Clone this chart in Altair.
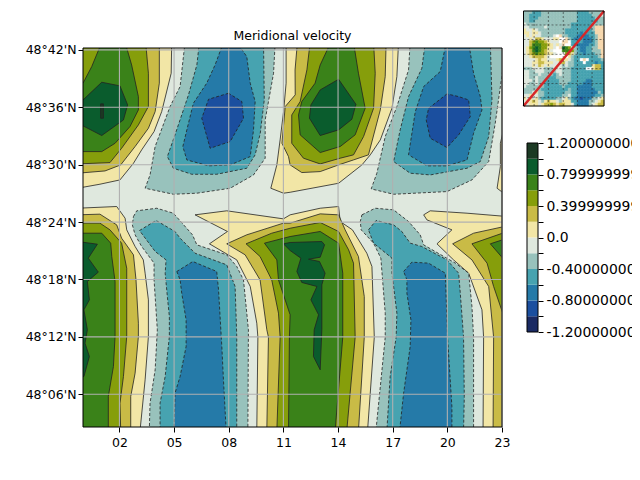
import altair as alt
import pandas as pd

# hours, latitude minutes above 48 degrees
T = 42.8
B = 2.2
L = -0.3
R = 23.3

TITLE = "Meridional velocity"

LEVELS = {
 "p00": ("#f2e6a6", [
  [(L,T),(4.87,T),(4.84,39.56),(4.32,35.55),(3.90,33.46),(3.22,31.55),(2.77,30.15),(2.03,28.41),(0.93,27.96),(L,27.54)],
  [(11.15,T),(11.15,38.52),(11.01,35.55),(10.82,32.59),(10.64,29.98),(10.31,27.54),(11.01,27.02),(11.37,27.12),(14.03,28.06),(15.31,29.98),(15.77,31.03),(16.32,32.59),(16.96,35.9),(17.23,39.21),(17.32,T)],
  [(R,33.29),(23.04,33.29),(22.91,32.24),(22.91,29.81),(22.73,27.54),(23.04,27.09),(R,27.09)],
  [(L,25.45),(1.85,25.63),(2.31,24.41),(2.40,23.19),(2.86,21.45),(3.31,20.05),(3.41,18.66),(3.59,15.87),(3.59,12.04),(3.41,7.51),(3.13,B),(L,B)],
  [(6.15,24.76),(7.89,25.18),(11.0,24.34),(11.37,24.76),(13.02,25.45),(14.03,25.63),(14.12,24.06),(14.79,23.19),(15.58,20.75),(15.86,19.36),(15.99,11.97),(15.62,B),(9.54,B),(9.6,11.97),(9.54,13.43),(9.18,17.27),(8.44,20.05),(6.94,21.73),(7.93,23.02)],
  [(18.7,24.76),(19.06,25.18),(21.08,24.93),(R,24.58),(R,B),(21.96,B),(21.99,11.97),(21.9,14.83),(21.17,18.66),(20.34,20.05),(19.43,21.73),(20.25,23.19),(18.88,24.23)],
 ]),
 "p02": ("#c9bb46", [
  [(L,T),(4.19,T),(4.19,38.52),(3.96,35.55),(3.59,33.81),(2.86,31.9),(2.07,29.98),(1.21,29.35),(L,29.11)],
  [(11.77,T),(11.64,39.91),(11.65,37.3),(11.10,36.08),(10.92,32.24),(11.28,30.85),(11.37,29.98),(12.01,29.18),(13.02,29.28),(14.03,29.98),(14.85,30.5),(15.67,31.03),(16.32,35.73),(16.59,39.21),(16.64,T)],
  [(L,24.76),(0.93,24.83),(1.85,23.71),(2.12,22.32),(2.77,20.58),(2.91,17.96),(3.04,13.43),(3.04,12.04),(2.86,8.21),(2.62,5.77),(2.62,B),(L,B)],
  [(7.89,21.73),(8.99,22.67),(11.0,23.89),(11.37,23.89),(13.02,24.86),(14.03,24.76),(14.39,23.19),(15.12,20.4),(15.44,16.22),(15.44,11.97),(15.12,B),(10.09,B),(10.18,11.97),(10.09,12.74),(9.72,17.96),(8.9,20.58)],
  [(20.29,21.73),(21.44,22.84),(R,23.61),(R,B),(22.51,B),(22.54,11.97),(22.27,17.27),(21.35,20.05)],
 ]),
 "p04": ("#869e0b", [
  [(L,T),(3.44,T),(3.59,39.56),(3.59,36.08),(3.04,34.16),(2.12,31.72),(1.48,30.22),(L,30.08)],
  [(12.47,T),(12.29,39.91),(11.92,36.6),(11.46,35.2),(11.46,32.24),(12.10,30.68),(13.02,30.08),(14.12,30.68),(14.85,31.03),(15.40,32.94),(15.95,35.9),(16.04,39.56),(15.95,T)],
  [(L,23.89),(0.93,23.89),(1.48,23.19),(2.12,21.8),(2.40,19.18),(2.40,12.04),(2.22,7.86),(2.03,5.07),(2.07,B),(L,B)],
  [(8.95,21.73),(10.36,22.84),(11.37,23.36),(13.02,23.96),(14.03,23.02),(14.58,21.1),(14.85,19.71),(14.94,11.97),(14.48,B),(10.64,B),(10.82,11.97),(10.73,14.48),(10.36,17.96),(9.72,20.4)],
  [(21.35,21.73),(R,23.02),(R,14.13),(23.04,14.48),(22.54,17.27),(22.18,19.71)],
 ]),
 "p06": ("#3a8219", [
  [(1.03,T),(2.31,T),(2.67,40.43),(3.04,37.12),(3.04,35.73),(2.58,33.99),(1.76,32.24),(1.03,31.37),(L,31.37),(L,38.52),(0,38.52),(0.48,40.26)],
  [(13.60,T),(13.02,40.43),(12.74,38.52),(12.01,36.6),(11.83,35.2),(11.92,33.12),(13.02,31.27),(14.12,31.9),(14.94,33.12),(15.49,35.9),(15.12,39.56),(14.85,T)],
  [(L,22.84),(1.03,22.84),(1.52,21.8),(1.58,20.4),(1.76,17.79),(1.76,12.04),(1.67,8.91),(1.39,5.77),(1.39,B),(L,B)],
  [(9.96,21.8),(11.37,22.49),(13.02,23.02),(14.03,21.8),(14.26,18.66),(14.26,11.97),(13.84,B),(11.28,B),(11.33,11.97),(11.37,14.31),(10.73,17.96),(10.64,20.05)],
  [(22.36,21.73),(R,22.32),(R,20.23),(23.04,20.23)],
 ]),
 "p08": ("#0a5c2d", [
  [(L,36.77),(0,36.77),(1.03,38.62),(2.03,38.24),(2.45,36.25),(2.22,34.68),(1.03,33.05),(0,34.06),(L,34.06)],
  [(14.03,38.93),(13.02,37.82),(12.51,36.25),(12.43,34.86),(13.02,33.05),(14.03,33.64),(14.76,34.75),(14.98,36.32)],
  [(L,21.97),(0.79,21.69),(0.29,20.23),(0.84,18.77),(0.24,17.79),(0.35,15.87),(0.05,14.83),(0.24,12.74),(0.11,11.34),(0.35,9.95),(0.05,7.86),(L,7.69)],
  [(11.0,21.73),(11.37,21.87),(13.11,21.97),(13.26,21.62),(13.02,20.33),(12.38,20.12),(12.98,19.88),(13.29,18.66),(13.11,17.44),(13.11,12.74),(13.02,8.56),(12.65,9.95),(12.69,12.74),(12.93,14.31),(12.51,15.87),(12.84,17.27),(12.01,17.69),(11.74,18.84),(11.96,20.23),(11.37,21.03)],
 ]),
 "p10": ("#1c3a24", [
  [(0.97,36.36),(1.12,36.36),(1.12,34.86),(0.97,34.86)],
 ]),
 "n02": ("#98c2bc", [
  [(5.60,T),(5.33,38.17),(4.78,36.08),(3.96,31.9),(3.68,28.93),(3.41,27.54),(4.96,26.91),(6.25,27.02),(8.08,27.54),(9.36,28.93),(10.0,30.68),(10.0,34.68),(10.46,39.56),(10.55,T)],
  [(17.96,T),(17.87,39.91),(17.23,36.08),(16.59,32.94),(16.13,29.11),(15.82,27.47),(17.05,26.91),(19.98,27.19),(21.35,28.41),(22.27,30.33),(22.63,34.34),(23.04,39.91),(R,39.91),(R,T)],
  [(2.77,24.58),(2.95,25.18),(4.05,25.45),(4.96,24.93),(6.01,22.67),(6.25,21.62),(7.89,20.58),(8.44,19.36),(8.81,17.96),(9.08,12.74),(9.05,B),(3.64,B),(3.68,5.07),(3.96,8.56),(4.08,12.74),(3.90,17.96),(3.90,19.71),(3.22,21.45),(2.86,22.67),(2.71,23.71)],
  [(15.31,24.76),(16.04,25.45),(17.05,25.28),(17.87,24.06),(18.51,22.67),(18.70,21.62),(20.44,19.71),(21.17,18.66),(21.35,15.18),(21.44,11.97),(21.44,B),(16.08,B),(16.59,11.97),(16.59,14.48),(16.35,20.23),(15.95,21.8),(15.27,23.19),(15.22,24.06)],
 ]),
 "n04": ("#47a3b0", [
  [(6.39,T),(6.25,40.43),(5.79,37.3),(5.05,33.12),(4.63,30.85),(4.96,29.63),(5.97,29.0),(7.34,29.0),(8.99,29.63),(9.45,31.03),(9.73,33.29),(9.95,36.77),(9.91,T)],
  [(18.79,T),(18.60,40.08),(17.87,37.12),(17.41,33.64),(17.05,30.33),(17.96,29.11),(19.06,28.93),(21.08,29.63),(21.81,30.33),(22.27,32.94),(22.45,36.77),(22.36,T)],
  [(3.10,23.12),(4.01,24.17),(5.05,23.02),(5.33,22.32),(6.15,20.75),(7.89,19.53),(8.35,17.27),(8.44,12.04),(8.44,B),(4.23,B),(4.23,5.07),(4.51,7.86),(4.74,12.04),(4.74,14.13),(4.63,16.22),(4.51,18.66),(4.56,20.05),(3.96,20.93)],
  [(15.67,23.19),(16.09,24.17),(17.05,23.71),(17.5,23.02),(17.96,21.8),(18.6,21.45),(19.98,20.05),(20.62,18.66),(20.71,16.57),(20.89,11.97),(20.93,5.77),(20.89,B),(16.68,B),(16.86,7.86),(17.19,11.97),(17.23,14.48),(16.96,18.66),(16.96,20.23),(15.95,21.8)],
 ]),
 "n06": ("#257aa8", [
  [(7.71,T),(7.25,40.43),(6.79,38.52),(6.06,36.43),(5.70,33.64),(5.48,31.9),(5.70,30.5),(6.89,29.88),(8.08,29.98),(9.18,30.85),(9.36,33.64),(9.45,36.6),(9.18,38.52),(8.99,41.3),(8.44,T)],
  [(19.94,T),(19.61,39.74),(18.70,38.17),(18.24,35.55),(17.87,31.03),(18.88,29.88),(19.98,29.88),(21.08,30.5),(21.44,33.29),(21.90,35.73),(21.81,37.12),(21.44,39.56),(21.17,T)],
  [(5.15,18.84),(6.03,19.88),(7.34,18.84),(7.44,16.92),(7.62,11.0),(7.71,7.51),(7.86,B),(5.0,B),(5.05,6.12),(5.33,7.86),(5.66,11.0),(5.66,13.78),(5.42,16.57),(5.33,17.96)],
  [(17.6,18.84),(18.05,19.81),(18.97,19.71),(19.89,18.66),(20.01,11.97),(20.25,4.72),(20.25,B),(17.38,B),(17.6,6.12),(17.96,11.0),(18.0,13.78),(17.78,16.57),(17.78,17.96)],
 ]),
 "n08": ("#1b4f9f", [
  [(7.99,37.47),(6.89,36.84),(6.52,34.86),(6.98,31.72),(8.08,32.42),(8.81,34.86),(8.72,36.6)],
  [(19.98,37.4),(18.97,35.9),(18.84,34.68),(19.06,32.77),(19.98,31.79),(20.62,33.12),(21.26,35.03),(21.17,36.77),(20.62,37.12)],
 ]),
}

X_TICKS = [2, 5, 8, 11, 14, 17, 20, 23]
Y_TICKS = [6, 12, 18, 24, 30, 36, 42]

CBAR_EDGES = [-1.2, -1.0, -0.8, -0.6, -0.4, -0.2, 0.0, 0.2, 0.4, 0.6, 0.8, 1.0, 1.2]
CBAR_COLORS = ["#1a2a63", "#1b4f9f", "#257aa8", "#47a3b0", "#98c2bc", "#dfe8de",
               "#f2e6a6", "#c9bb46", "#869e0b", "#3a8219", "#0a5c2d", "#1c3a24"]
CBAR_LABELS = {1.2: "1.2000000000000002", 0.8: "0.7999999999999998", 0.4: "0.3999999999999999",
               0.0: "0.0", -0.4: "-0.4000000000000001", -0.8: "-0.8000000000000002", -1.2: "-1.2000000000000002"}

INSET_ROWS = [
 "tttTTTttttttttttttTTTTtttt.",
 "ttTTTTttttttttttttTTTTTttt.",
 "ttTTTtttttttttttttTTTTTTttt",
 "ttTTttttttttttttttTTTTTTTtt",
 ".tttttttttttttttTTTTTTTtttt",
 "..ttttt.ttttttttTTTTTTTtLLL",
 "c..c.tttttttttTTTTTTTTTtLLL",
 "cc.cc.ttttttttTTTTTBTTTTLLL",
 ".c.c..tttt.wLttTTTBBBBTTtLL",
 "..c.mmc...ccwwLtTBBTBBBTtLL",
 "..mogoomc...wLLwTTTTBBBTtLL",
 "..mgggoomc.c.LwwTBBBBBTTtLL",
 ".cogdgoocc.wLdgowtTBBTTttLL",
 ".cmgdgomc.wwwgggotTBBTTtttL",
 ".cmogoomcc.wwwomctTTBTTTttL",
 "..cmmmmc.wwwwwwctTTTTTTTTtL",
 "....cmcc...cmcc.tTTwLwTTTTt",
 "...ccmmccc..mm.ttTTTwTTTBTT",
 "...c.mc.c....t.ttTTTTTTcmmT",
 "ttt....ttt...tttTTTTTwwcmmT",
 "..tt...tttt..tttTTTTTTTTTTT",
 "..ttt.ttttTt.tttTTTTTTTTTTT",
 "..tt.tttTTTtttttTTTTTTTTTTT",
 "...t.ttTTTTTttttTTTTTBBTTTT",
 "..tt.ttTTTTTtttTTTTTBBBTTTT",
 ".ttttttTTTTTTtTTTTBBBBBTTTT",
 "ttttttTTTTTTTTTtTTBBBBBBTTT",
 "ttt.cttTTTTTTTttTTBBBBBBBtT",
 "..c..ttTTTTTTtt.TTBBBBBBTTt",
 "c.c.ctTTTTTtt.ctTBBNBBBtt.c",
 ".ccmc.tcmcc.tcccTTBBBBtt.cm",
 "..ccc.cmmomcmmcc.TBBBBt.cmm",
]
INSET_COLORS = {".": "#dfe8de", "t": "#98c2bc", "T": "#47a3b0", "B": "#257aa8", "N": "#1b4f9f",
                "c": "#f2e6a6", "m": "#c9bb46", "o": "#869e0b", "g": "#3a8219", "d": "#0a5c2d",
                "L": "#f7d8ae", "w": "#ffffff"}
INSET_VGRID = [3.56, 8.33, 13.33, 18.11, 23.0]
INSET_HGRID = [27.3, 22.4, 17.4, 12.6, 7.6, 2.8]

W, H = 419, 379
X0, X1 = 0.0, 23.0
Y0, Y1 = 2.58, 42.2
sx = alt.Scale(domain=[X0, X1], range=[0, W], nice=False, zero=False)
sy = alt.Scale(domain=[Y0, Y1], range=[H, 0], nice=False, zero=False)

layers = []
# background band
layers.append(alt.Chart(pd.DataFrame({"a": [X0], "b": [X1], "c": [Y0], "d": [Y1]})).mark_rect(fill="#dfe8de").encode(
    x=alt.X("a:Q", scale=sx, axis=None), x2="b:Q", y=alt.Y("c:Q", scale=sy, axis=None), y2="d:Q"))

for key, (colour, polys) in LEVELS.items():
    rows = []
    for pid, poly in enumerate(polys):
        for seq, (h, m) in enumerate(list(poly) + [poly[0]]):
            rows.append({"h": h, "m": m, "poly": pid, "seq": seq})
    kw = {"strokeDash": [3, 2]} if key.startswith("n") else {}
    layers.append(alt.Chart(pd.DataFrame(rows)).mark_line(
        fill=colour, stroke="#222222", strokeWidth=0.8, clip=True, **kw).encode(
        x=alt.X("h:Q", scale=sx, axis=None), y=alt.Y("m:Q", scale=sy, axis=None),
        detail="poly:N", order="seq:Q"))

# grid
layers.append(alt.Chart(pd.DataFrame({"v": X_TICKS})).mark_rule(color="#b0b0b0", strokeWidth=1.1).encode(
    x=alt.X("v:Q", scale=sx, axis=None)))
layers.append(alt.Chart(pd.DataFrame({"v": Y_TICKS})).mark_rule(color="#b0b0b0", strokeWidth=1.1).encode(
    y=alt.Y("v:Q", scale=sy, axis=None)))

# frame and axes
layers.append(alt.Chart(pd.DataFrame({"a": [X0], "b": [X1], "c": [Y0], "d": [Y1]})).mark_rect(
    filled=False, stroke="black", strokeWidth=1).encode(
    x=alt.X("a:Q", scale=sx, title=None, axis=alt.Axis(
        orient="bottom", values=X_TICKS, grid=False, domain=False, tickColor="black", tickSize=5, labelPadding=4,
        labelColor="black", labelFont="DejaVu Sans", labelFontSize=12.5,
        labelExpr="(datum.value<10?'0':'')+datum.value", labelFlush=False, labelOverlap=False)),
    x2="b:Q",
    y=alt.Y("c:Q", scale=sy, title=None, axis=alt.Axis(
        orient="left", values=Y_TICKS, grid=False, domain=False, tickColor="black", tickSize=5, labelPadding=2,
        labelColor="black", labelFont="DejaVu Sans", labelFontSize=12.5,
        labelExpr="'48°'+(datum.value<10?'0':'')+datum.value+\"'N\"", labelFlush=False, labelOverlap=False)),
    y2="d:Q"))

# title
layers.append(alt.Chart(pd.DataFrame({"t": [TITLE]})).mark_text(
    font="DejaVu Sans", fontSize=12.5, color="black", align="center", baseline="middle").encode(
    text="t:N", x=alt.value(209.5), y=alt.value(-12)))

# colourbar
cb_x = alt.Scale(domain=[0, 1], range=[444, 455], nice=False, zero=False)
cb_y = alt.Scale(domain=[-1.2, 1.2], range=[284, 95], nice=False, zero=False)
cb_df = pd.DataFrame({"a": [0] * 12, "b": [1] * 12, "lo": CBAR_EDGES[:-1], "hi": CBAR_EDGES[1:], "col": CBAR_COLORS})
layers.append(alt.Chart(cb_df).mark_rect().encode(
    x=alt.X("a:Q", scale=cb_x, axis=None), x2="b:Q",
    y=alt.Y("lo:Q", scale=cb_y, axis=None), y2="hi:Q", color=alt.Color("col:N", scale=None)))
expr = "".join("abs(datum.value-(%s))<0.01?'%s':" % (k, v) for k, v in CBAR_LABELS.items()) + "''"
layers.append(alt.Chart(pd.DataFrame({"a": [0], "b": [1], "lo": [-1.2], "hi": [1.2]})).mark_rect(
    filled=False, stroke="black", strokeWidth=1).encode(
    x=alt.X("a:Q", scale=cb_x, axis=None), x2="b:Q",
    y=alt.Y("lo:Q", scale=cb_y, title=None, axis=alt.Axis(
        orient="right", offset=36, values=CBAR_EDGES, grid=False, domain=False, tickColor="black", tickSize=5,
        labelPadding=3, labelColor="black", labelFont="DejaVu Sans", labelFontSize=13.9, labelLimit=400,
        labelExpr=expr, labelFlush=False, labelOverlap=False, labelBound=False)),
    y2="hi:Q"))

# inset
in_x = alt.Scale(domain=[0, 27], range=[440.5, 521], nice=False, zero=False)
in_y = alt.Scale(domain=[0, 32], range=[58, -37], nice=False, zero=False)
cells = []
for r, row in enumerate(INSET_ROWS):
    for c, ch in enumerate(row):
        cells.append({"a": c, "b": c + 1, "lo": 31 - r, "hi": 32 - r, "col": INSET_COLORS[ch]})
layers.append(alt.Chart(pd.DataFrame(cells)).mark_rect(strokeWidth=0.6).encode(
    x=alt.X("a:Q", scale=in_x, axis=None), x2="b:Q",
    y=alt.Y("lo:Q", scale=in_y, axis=None), y2="hi:Q",
    color=alt.Color("col:N", scale=None), stroke=alt.Stroke("col:N", scale=None)))
layers.append(alt.Chart(pd.DataFrame({"a": INSET_VGRID, "lo": [0] * 5, "hi": [32] * 5})).mark_rule(
    color="#222222", strokeDash=[2, 2], strokeWidth=0.7, opacity=0.8).encode(
    x=alt.X("a:Q", scale=in_x, axis=None), y=alt.Y("lo:Q", scale=in_y, axis=None), y2="hi:Q"))
layers.append(alt.Chart(pd.DataFrame({"a": [0] * 6, "b": [27] * 6, "lo": INSET_HGRID})).mark_rule(
    color="#222222", strokeDash=[2, 2], strokeWidth=0.7, opacity=0.8).encode(
    x=alt.X("a:Q", scale=in_x, axis=None), x2="b:Q", y=alt.Y("lo:Q", scale=in_y, axis=None)))
layers.append(alt.Chart(pd.DataFrame({"a": [0, 27], "lo": [0, 32]})).mark_line(
    color="#d62728", strokeWidth=2.5).encode(
    x=alt.X("a:Q", scale=in_x, axis=None), y=alt.Y("lo:Q", scale=in_y, axis=None)))
layers.append(alt.Chart(pd.DataFrame({"a": [0], "b": [27], "lo": [0], "hi": [32]})).mark_rect(
    filled=False, stroke="black", strokeWidth=1).encode(
    x=alt.X("a:Q", scale=in_x, axis=None), x2="b:Q",
    y=alt.Y("lo:Q", scale=in_y, axis=None), y2="hi:Q"))

chart = alt.layer(*layers).resolve_scale(x="independent", y="independent").resolve_axis(
    x="independent", y="independent").properties(
    width=W, height=H,
    autosize=alt.AutoSizeParams(type="none"),
    padding={"left": 75, "top": 40, "right": 130, "bottom": 40},
).configure_view(stroke=None)

chart.save("out.html", embed_options={"renderer": "svg", "actions": False})
